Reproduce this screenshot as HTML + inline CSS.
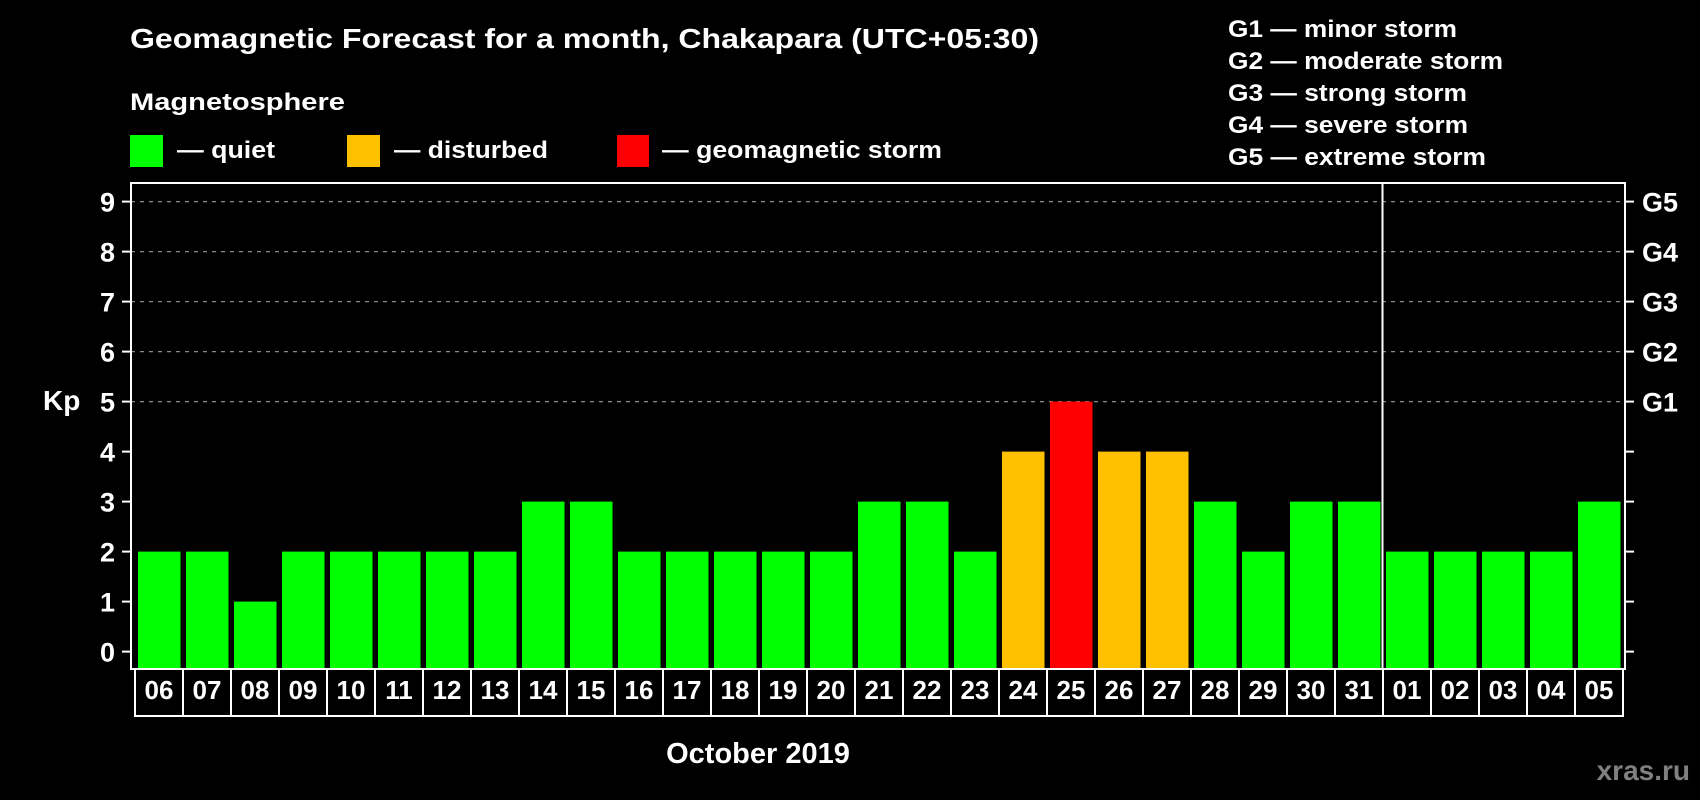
<!DOCTYPE html>
<html><head><meta charset="utf-8"><style>
html,body{margin:0;padding:0;background:#000;width:1700px;height:800px;overflow:hidden}
svg{display:block;font-family:"Liberation Sans",sans-serif;font-weight:bold}
</style></head><body>
<svg id="chart" width="1700" height="800" viewBox="0 0 1700 800">
<rect width="1700" height="800" fill="#000"/>
<text x="130" y="48" font-size="28" fill="#fff" textLength="909" lengthAdjust="spacingAndGlyphs">Geomagnetic Forecast for a month, Chakapara (UTC+05:30)</text>
<text x="130" y="110" font-size="24" fill="#fff" textLength="215" lengthAdjust="spacingAndGlyphs">Magnetosphere</text>
<g><rect x="130" y="135" width="33" height="32" fill="#00ff00"/><text x="177" y="158" font-size="24" fill="#fff" textLength="98" lengthAdjust="spacingAndGlyphs">— quiet</text></g>
<g><rect x="347" y="135" width="33" height="32" fill="#ffc000"/><text x="394" y="158" font-size="24" fill="#fff" textLength="154" lengthAdjust="spacingAndGlyphs">— disturbed</text></g>
<g><rect x="617" y="135" width="32" height="32" fill="#ff0000"/><text x="662" y="158" font-size="24" fill="#fff" textLength="280" lengthAdjust="spacingAndGlyphs">— geomagnetic storm</text></g>
<g font-size="24" fill="#fff">
<text x="1228" y="37" textLength="229" lengthAdjust="spacingAndGlyphs">G1 — minor storm</text>
<text x="1228" y="69" textLength="275" lengthAdjust="spacingAndGlyphs">G2 — moderate storm</text>
<text x="1228" y="101" textLength="239" lengthAdjust="spacingAndGlyphs">G3 — strong storm</text>
<text x="1228" y="133" textLength="240" lengthAdjust="spacingAndGlyphs">G4 — severe storm</text>
<text x="1228" y="165" textLength="258" lengthAdjust="spacingAndGlyphs">G5 — extreme storm</text>
</g>
<g id="grid"></g>
<g id="bars"></g>
<g id="axes"></g>
<text x="43" y="410" font-size="28" fill="#fff">Kp</text>
<text x="758" y="763" font-size="29" fill="#fff" text-anchor="middle">October 2019</text>
<text x="1690" y="780" font-size="28" fill="#808080" text-anchor="end">xras.ru</text>
</svg>
<script>
const days = ["06","07","08","09","10","11","12","13","14","15","16","17","18","19","20","21","22","23","24","25","26","27","28","29","30","31","01","02","03","04","05"];
const kpValues = [2,2,1,2,2,2,2,2,3,3,2,2,2,2,2,3,3,2,4,5,4,4,3,2,3,3,2,2,2,2,3];
const yTicks = [0,1,2,3,4,5,6,7,8,9];
const gLabels = ["G1","G2","G3","G4","G5"];
const gLevels = [5,6,7,8,9];
const monthBreakIndex = 26;

const NS="http://www.w3.org/2000/svg";
const L=131,R=1625,T=183,B=669,X0=135,STEP=48,BW=42.5;
const y=v=>651.6-v*50;
const x=i=>X0+i*STEP;
function mk(tag,attrs,parent){const e=document.createElementNS(NS,tag);for(const k in attrs)e.setAttribute(k,attrs[k]);parent.appendChild(e);return e;}
const grid=document.getElementById('grid'),bars=document.getElementById('bars'),axes=document.getElementById('axes');
gLevels.forEach(v=>{
  const l=mk('line',{x1:L,x2:R,y1:y(v),y2:y(v),stroke:'#8a8a8a','stroke-width':1.3,'stroke-dasharray':'4 5'},grid);
  
  
});
kpValues.forEach((v,i)=>{
  const c=v>=5?'#ff0000':(v>=4?'#ffc000':'#00ff00');
  const r=mk('rect',{x:x(i)+3,y:y(v),width:BW,height:B-y(v)-1,fill:c},bars);
  
  
});
const frame=mk('rect',{x:L,y:T,width:R-L,height:B-T,fill:'none',stroke:'#fff','stroke-width':2},axes);


const div=mk('line',{x1:x(monthBreakIndex)-0.5,x2:x(monthBreakIndex)-0.5,y1:T,y2:B,stroke:'#fff','stroke-width':2},axes);


yTicks.forEach(v=>{
  mk('line',{x1:122,x2:L,y1:y(v),y2:y(v),stroke:'#fff','stroke-width':2},axes);
  mk('line',{x1:R,x2:1634,y1:y(v),y2:y(v),stroke:'#fff','stroke-width':2},axes);
  const t=mk('text',{x:115,y:y(v)+10,'font-size':27,fill:'#fff','text-anchor':'end'},axes);
  t.textContent=v;
  
  
});
gLabels.forEach((g,i)=>{
  const t=mk('text',{x:1642,y:y(gLevels[i])+10,'font-size':27,fill:'#fff'},axes);
  t.textContent=g;
  
  
});
days.forEach((d,i)=>{
  const r=mk('rect',{x:x(i),y:B,width:STEP,height:47,fill:'#000',stroke:'#fff','stroke-width':2},axes);
  
  
  const t=mk('text',{x:x(i)+STEP/2,y:699,'font-size':26,fill:'#fff','text-anchor':'middle'},axes);
  t.textContent=d;
  
  
});
</script>
</body></html>
